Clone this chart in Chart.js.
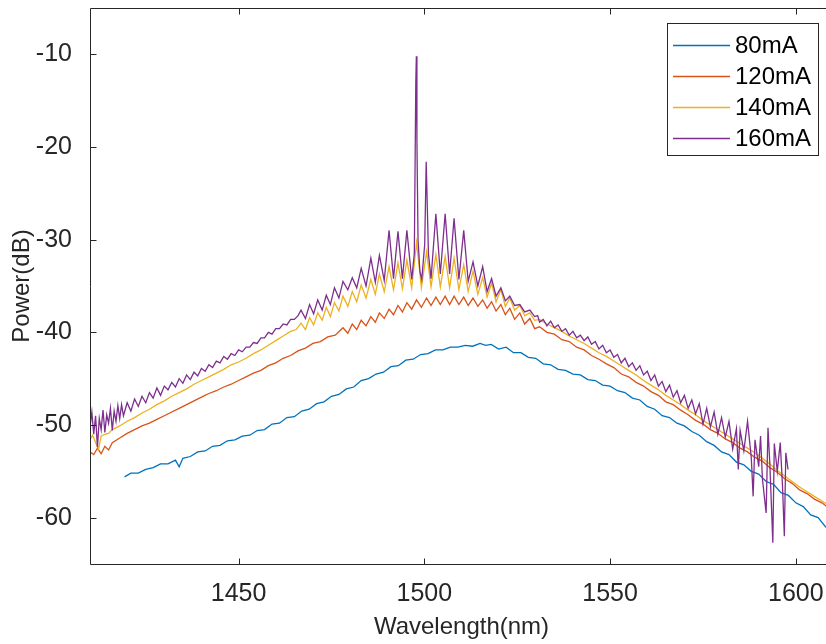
<!DOCTYPE html>
<html><head><meta charset="utf-8">
<script src="https://cdn.jsdelivr.net/npm/chart.js@4.4.1/dist/chart.umd.min.js"></script>
<style>html,body{margin:0;padding:0;background:#fff;overflow:hidden;width:826px;height:644px}
#wrap{position:relative;width:826px;height:644px;overflow:hidden}
canvas{display:block}</style></head><body><div id="wrap"><canvas id="c" width="840" height="644"></canvas></div>
<script>
const seriesNames = ['80mA', '120mA', '140mA', '160mA'];
const seriesColors = ['#0072BD', '#D95319', '#EDB120', '#7E2F8E'];
const xTicks = [1450, 1500, 1550, 1600];
const yTicks = [-60, -50, -40, -30, -20, -10];
const xLabel = 'Wavelength(nm)';
const yLabel = 'Power(dB)';

// [wavelength nm, power dB]
const s80 = [[1419.3,-55.6],[1421,-55.2],[1423,-55.2],[1425,-54.8],[1427,-54.6],[1429,-54.2],[1431,-54.2],[1433,-53.8],[1434,-54.5],[1435,-53.6],[1437,-53.4],[1439,-52.9],[1441,-52.8],[1443,-52.3],[1445,-52.2],[1447,-51.7],[1449,-51.6],[1451,-51.2],[1453,-51.1],[1455,-50.6],[1457,-50.5],[1459,-49.9],[1461,-49.8],[1463,-49.2],[1465,-49.1],[1467,-48.5],[1469,-48.3],[1471,-47.7],[1473,-47.5],[1475,-46.9],[1477,-46.7],[1479,-46.1],[1481,-45.9],[1483,-45.2],[1485,-45.0],[1487,-44.5],[1489,-44.3],[1491,-43.7],[1493,-43.6],[1495,-43.0],[1497,-42.9],[1499,-42.4],[1501,-42.3],[1503,-41.9],[1505,-41.9],[1507,-41.6],[1509,-41.6],[1511,-41.4],[1513,-41.5],[1515,-41.2],[1516.5,-41.4],[1518,-41.3],[1520,-41.8],[1522,-41.6],[1524,-42.2],[1526,-42.2],[1528,-42.7],[1530,-42.8],[1532,-43.4],[1534,-43.5],[1536,-44.0],[1538,-44.1],[1540,-44.5],[1542,-44.6],[1544,-45.1],[1546,-45.2],[1548,-45.7],[1550,-45.8],[1552,-46.3],[1554,-46.5],[1556,-47.1],[1558,-47.3],[1560,-48.0],[1562,-48.3],[1564,-49.0],[1566,-49.2],[1568,-49.8],[1570,-50.1],[1572,-50.7],[1574,-51.1],[1576,-51.8],[1578,-52.2],[1580,-52.9],[1582,-53.2],[1584,-54.0],[1586,-54.3],[1588,-55.0],[1590,-55.3],[1592,-56.1],[1594,-56.4],[1596,-57.3],[1598,-57.6],[1600,-58.4],[1602,-58.8],[1604,-59.7],[1606,-60.0],[1608,-61.0],[1610,-61.2]];

const s120 = [[1410,-52.9],[1411,-53.2],[1412,-52.5],[1413,-53.1],[1414,-52.3],[1415,-52.7],[1416,-51.9],[1418,-51.4],[1420,-50.9],[1422,-50.5],[1424,-50.1],[1426,-49.8],[1428,-49.4],[1430,-49.0],[1432,-48.6],[1434,-48.2],[1436,-47.8],[1438,-47.4],[1440,-47.0],[1442,-46.6],[1444,-46.3],[1446,-45.9],[1448,-45.6],[1450,-45.2],[1452,-44.8],[1454,-44.4],[1456,-44.1],[1458,-43.6],[1460,-43.3],[1462,-42.8],[1464,-42.5],[1466,-42.0],[1468,-41.7],[1470,-41.2],[1472,-41.0],[1474,-40.5],[1476,-40.3],
[1478.1,-39.5],[1479.4,-40.1],[1480.6,-39.1],[1481.8,-39.7],[1483.0,-38.7],[1484.3,-39.3],[1485.6,-38.3],[1486.8,-38.9],[1487.9,-37.9],[1489.2,-38.5],[1490.5,-37.5],[1491.7,-38.1],[1492.9,-37.1],[1494.1,-37.8],[1495.3,-36.8],[1496.6,-37.5],[1497.9,-36.5],[1499.2,-37.3],[1500.6,-36.3],[1501.8,-37.1],[1503.1,-36.2],[1504.3,-37.0],[1505.6,-36.1],[1506.8,-37.0],[1508.0,-36.1],[1509.3,-37.0],[1510.6,-36.2],[1511.8,-37.1],[1513.1,-36.3],[1514.4,-37.2],[1515.7,-36.5],[1516.9,-37.4],[1518.1,-36.7],[1519.3,-37.7],[1520.6,-37.0],[1521.8,-38.1],[1523.0,-37.4],[1524.3,-38.6],[1525.7,-37.9],[1527.0,-39.1],[1528.4,-38.5],[1529.7,-39.6],
[1531,-39.4],[1533,-40.0],[1535,-40.2],[1537,-40.8],[1539,-41.0],[1541,-41.6],[1543,-41.9],[1545,-42.5],[1547,-42.9],[1549,-43.4],[1551,-43.8],[1553,-44.5],[1555,-44.8],[1557,-45.4],[1559,-45.8],[1561,-46.4],[1563,-46.8],[1565,-47.5],[1567,-47.8],[1569,-48.4],[1571,-48.9],[1573,-49.5],[1575,-49.9],[1577,-50.5],[1579,-50.9],[1581,-51.5],[1583,-51.9],[1585,-52.5],[1587,-52.9],[1589,-53.5],[1591,-53.9],[1593,-54.6],[1595,-55.1],[1597,-55.8],[1599,-56.3],[1601,-57.0],[1603,-57.4],[1605,-58.0],[1607,-58.4],[1609,-59.0],[1610,-59.1]];

const s140 = [[1410,-51.6],[1410.7,-51.1],[1411.5,-51.9],[1412.3,-52.6],[1413,-51.2],[1414,-51.0],[1415,-50.9],[1416,-50.5],[1418,-50.1],[1420,-49.6],[1422,-49.2],[1424,-48.7],[1426,-48.3],[1428,-47.8],[1430,-47.4],[1432,-46.9],[1434,-46.5],[1436,-46.1],[1438,-45.6],[1440,-45.2],[1442,-44.8],[1444,-44.4],[1446,-44.0],[1448,-43.5],[1450,-43.2],[1452,-42.8],[1454,-42.3],[1456,-41.9],[1458,-41.4],[1460,-40.9],[1462,-40.4],[1464,-39.9],[1465.5,-39.7],
[1466.8,-39.0],[1468.0,-39.7],[1469.1,-38.4],[1470.2,-39.2],[1471.3,-37.9],[1472.5,-38.7],[1473.6,-37.3],[1474.7,-38.3],[1475.8,-36.8],[1477.0,-37.7],[1478.1,-36.1],[1479.4,-37.2],[1480.6,-35.6],[1481.8,-36.7],[1483.0,-34.9],[1484.3,-36.3],[1485.6,-34.3],[1486.8,-35.9],[1487.9,-33.7],[1489.2,-35.6],[1490.5,-32.9],[1491.7,-35.4],[1492.9,-32.5],[1494.1,-35.3],[1495.3,-32.2],[1496.6,-35.2],[1497.9,-30.3],[1499.2,-35.2],[1500.6,-31.3],[1501.8,-35.1],[1503.1,-31.6],[1504.3,-35.1],[1505.6,-31.8],[1506.8,-35.2],[1508.0,-32.0],[1509.3,-35.4],[1510.6,-32.7],[1511.8,-35.6],[1513.1,-33.4],[1514.4,-35.9],[1515.7,-34.1],[1516.9,-36.2],[1518.1,-34.7],[1519.3,-36.7],[1520.6,-35.4],[1521.8,-37.2],[1523.0,-36.3],[1524.3,-37.6],[1525.7,-37.1],[1527.0,-38.2],[1528.4,-37.9],[1529.7,-38.7],
[1531,-38.6],[1533,-39.1],[1535,-39.5],[1537,-39.9],[1539,-40.4],[1541,-40.8],[1543,-41.2],[1545,-41.7],[1547,-42.2],[1549,-42.6],[1551,-43.1],[1553,-43.6],[1555,-44.1],[1557,-44.6],[1559,-45.2],[1561,-45.7],[1563,-46.2],[1565,-46.8],[1567,-47.3],[1569,-47.8],[1571,-48.4],[1573,-48.9],[1575,-49.5],[1577,-50.0],[1579,-50.5],[1581,-51.0],[1583,-51.5],[1585,-52.0],[1587,-52.5],[1589,-53.0],[1591,-53.6],[1593,-54.2],[1595,-54.9],[1597,-55.5],[1599,-56.1],[1601,-56.7],[1603,-57.2],[1605,-57.7],[1607,-58.2],[1609,-58.7],[1610,-58.9]];

const s160 = [[1410,-50.2],[1410.5,-48.6],[1411,-51.0],[1411.5,-49.0],[1412,-52.4],[1412.5,-49.3],[1413,-50.5],[1413.5,-48.4],[1414,-50.8],[1414.5,-48.9],[1415,-49.8],[1415.5,-48.2],[1416,-50.6],[1416.5,-48.5],[1417,-49.6],[1417.5,-47.9],[1418,-49.3],[1418.5,-47.8],[1419,-49.0],[1420,-47.6],[1421,-48.5],[1422,-47.2],[1423,-48.0],[1424,-46.9],[1425,-47.6],[1426,-46.5],[1427,-47.1],[1428,-46.0],[1429,-46.8],[1430,-45.8],[1431,-46.2],[1432,-45.4],[1433,-45.9],[1434,-45.0],[1435,-45.5],[1436,-44.6],[1437,-45.1],[1438,-44.3],[1439,-44.7],[1440,-43.9],[1441,-44.2],[1442,-43.5],[1443,-43.8],[1444,-43.1],[1445,-43.3],[1446,-42.6],[1447,-42.9],[1448,-42.3],[1449,-42.5],[1450,-41.9],[1451,-42.1],[1452,-41.6],[1453,-41.6],[1454,-41.1],[1455,-41.2],[1456,-40.6],[1457,-40.6],[1458,-40.0],[1459,-40.2],[1460,-39.6],[1461,-39.6],[1462,-39.1],[1463,-39.2],[1464,-38.6],[1465,-38.6],[1466,-38.2],
[1466.8,-37.6],[1468.0,-38.5],[1469.1,-37.0],[1470.2,-38.0],[1471.3,-36.5],[1472.5,-37.6],[1473.6,-36.0],[1474.7,-37.0],[1475.8,-35.2],[1477.0,-36.3],[1478.1,-34.5],[1479.4,-35.4],[1480.6,-34.1],[1481.8,-35.2],[1483.0,-33.1],[1484.3,-35.0],[1485.6,-32.0],[1486.8,-34.6],[1487.9,-31.7],[1489.2,-34.4],[1490.5,-29.0],[1491.7,-34.2],[1492.9,-29.1],[1494.1,-34.2],[1495.3,-29.0],[1496.6,-34.3],
[1497.3,-31.5],[1497.7,-13.0],[1497.85,-10.2],[1498.0,-19.3],[1498.3,-30.0],[1498.8,-33.4],[1499.3,-34.3],[1500.1,-30.5],[1500.5,-21.6],[1500.75,-25.7],[1501.1,-31.5],[1501.8,-34.2],
[1503.1,-27.2],[1504.3,-33.7],[1505.6,-27.2],[1506.8,-33.7],[1508.0,-27.7],[1509.3,-34.3],[1510.6,-29.0],[1511.8,-34.5],[1513.1,-32.4],[1514.4,-35.0],[1515.7,-32.9],[1516.9,-35.6],[1518.1,-34.2],[1519.3,-36.1],[1520.6,-35.2],[1521.8,-36.6],[1523.0,-36.1],[1524.3,-37.1],[1525.7,-37.0],[1527.0,-37.8],[1528.4,-37.6],[1529.7,-38.3],
[1530.5,-38.2],[1531,-38.9],[1532,-38.6],[1533,-39.3],[1534,-38.8],[1535,-39.5],[1536,-39.2],[1537,-39.9],[1538,-39.6],[1539,-40.3],[1540,-39.9],[1541,-40.6],[1542,-40.3],[1543,-40.9],[1544,-40.5],[1545,-41.3],[1546,-41.0],[1547,-41.8],[1548,-41.4],[1549,-42.2],[1550,-41.9],[1551,-42.7],[1552,-42.4],[1553,-43.3],[1554,-42.8],[1555,-43.7],[1556,-43.3],[1557,-44.1],[1558,-43.6],[1559,-44.6],[1560,-44.2],[1561,-45.2],[1562,-44.6],[1563,-45.8],[1564,-45.3],[1565,-46.4],[1566,-45.7],[1567,-47.0],[1568,-46.3],[1569,-47.6],[1570,-46.8],[1571,-48.2],[1572,-47.3],[1573,-48.8],[1574,-47.7],[1575,-49.9],[1576,-48.2],[1577,-50.2],[1578,-48.6],[1579,-51.0],[1580,-49.2],[1581,-51.3],[1582,-49.6],[1583,-52.6],[1584,-50.4],[1584.5,-54.8],[1585,-50.6],[1586,-52.8],[1587,-49.6],[1588,-53.5],[1588.5,-57.7],[1589,-51.6],[1590,-54.5],[1590.5,-51.2],[1591,-55.8],[1592,-59.5],[1592.5,-50.3],[1593,-54.2],[1593.8,-62.7],[1594.2,-52.0],[1595,-55.0],[1595.8,-51.9],[1596.4,-56.5],[1596.9,-62.0],[1597.3,-53.0],[1597.9,-54.8]];

const seriesData = [s80, s120, s140, s160];

const FONT = '"Liberation Sans", Arial, Helvetica, sans-serif';
const AX = '#262626';

const boxPlugin = {
  id: 'box',
  afterDraw(chart) {
    const {ctx, chartArea: a, scales: {x, y}} = chart;
    ctx.save();
    ctx.strokeStyle = AX;
    ctx.lineWidth = 1;
    const l = Math.round(a.left) + 0.5, r = Math.round(a.right) + 0.5;
    const t = Math.round(a.top) + 0.5, b = Math.round(a.bottom) + 0.5;
    ctx.beginPath();
    ctx.moveTo(l, t); ctx.lineTo(r, t); ctx.lineTo(r, b); ctx.lineTo(l, b); ctx.closePath();
    const L = 6;
    xTicks.forEach(v => {
      const px = Math.round(x.getPixelForValue(v)) + 0.5;
      ctx.moveTo(px, b); ctx.lineTo(px, b - L);
      ctx.moveTo(px, t); ctx.lineTo(px, t + L);
    });
    yTicks.forEach(v => {
      const py = Math.round(y.getPixelForValue(v)) + 0.5;
      ctx.moveTo(l, py); ctx.lineTo(l + L, py);
      ctx.moveTo(r, py); ctx.lineTo(r - L, py);
    });
    ctx.stroke();

    // legend
    const lx = 667.5, ly = 23.5, lw = 151, lh = 132;
    ctx.fillStyle = '#fff';
    ctx.fillRect(lx, ly, lw, lh);
    ctx.strokeStyle = AX;
    ctx.strokeRect(lx, ly, lw, lh);
    ctx.font = '24px ' + FONT;
    ctx.textBaseline = 'middle';
    ctx.textAlign = 'left';
    seriesNames.forEach((n, i) => {
      const ry = 45 + i * 31;
      ctx.strokeStyle = seriesColors[i];
      ctx.lineWidth = 1.3;
      ctx.beginPath();
      ctx.moveTo(673, ry + 0.5); ctx.lineTo(730, ry + 0.5);
      ctx.stroke();
      ctx.fillStyle = '#000';
      ctx.fillText(n, 735, ry + 1);
    });
    ctx.restore();
  }
};

new Chart(document.getElementById('c'), {
  type: 'line',
  data: {
    datasets: seriesNames.map((n, i) => ({
      label: n,
      data: seriesData[i].map(p => ({x: p[0], y: p[1]})),
      borderColor: seriesColors[i],
      backgroundColor: seriesColors[i],
      borderWidth: 1.3,
      pointRadius: 0,
      tension: 0,
      fill: false,
      order: 3 - i
    }))
  },
  options: {
    responsive: false,
    animation: false,
    devicePixelRatio: 1,
    layout: {padding: {top: 8, right: 7, left: 0, bottom: 0}},
    plugins: {legend: {display: false}, tooltip: {enabled: false}},
    scales: {
      x: {
        type: 'linear', min: 1410, max: 1610,
        grid: {display: false}, border: {display: false},
        afterBuildTicks: s => { s.ticks = xTicks.map(v => ({value: v})); },
        afterFit: s => { s.height = 80; s.paddingLeft = 0; s.paddingRight = 0; s.paddingTop = 0; s.paddingBottom = 0; },
        ticks: {font: {family: FONT, size: 25}, color: AX, padding: 7, maxRotation: 0, autoSkip: false,
                callback: v => String(v)},
        title: {display: true, text: xLabel, font: {family: FONT, size: 24}, color: AX, padding: {top: 0, bottom: 2}}
      },
      y: {
        type: 'linear', min: -65, max: -5,
        grid: {display: false}, border: {display: false},
        afterBuildTicks: s => { s.ticks = yTicks.map(v => ({value: v})); },
        afterFit: s => { s.width = 90; s.paddingLeft = 0; s.paddingRight = 0; s.paddingTop = 0; s.paddingBottom = 0; },
        ticks: {font: {family: FONT, size: 25}, color: AX, padding: 10, callback: v => String(v)},
        title: {display: true, text: yLabel, font: {family: FONT, size: 24}, color: AX, padding: {top: 8, bottom: 0}}
      }
    }
  },
  plugins: [boxPlugin]
});
</script></body></html>
